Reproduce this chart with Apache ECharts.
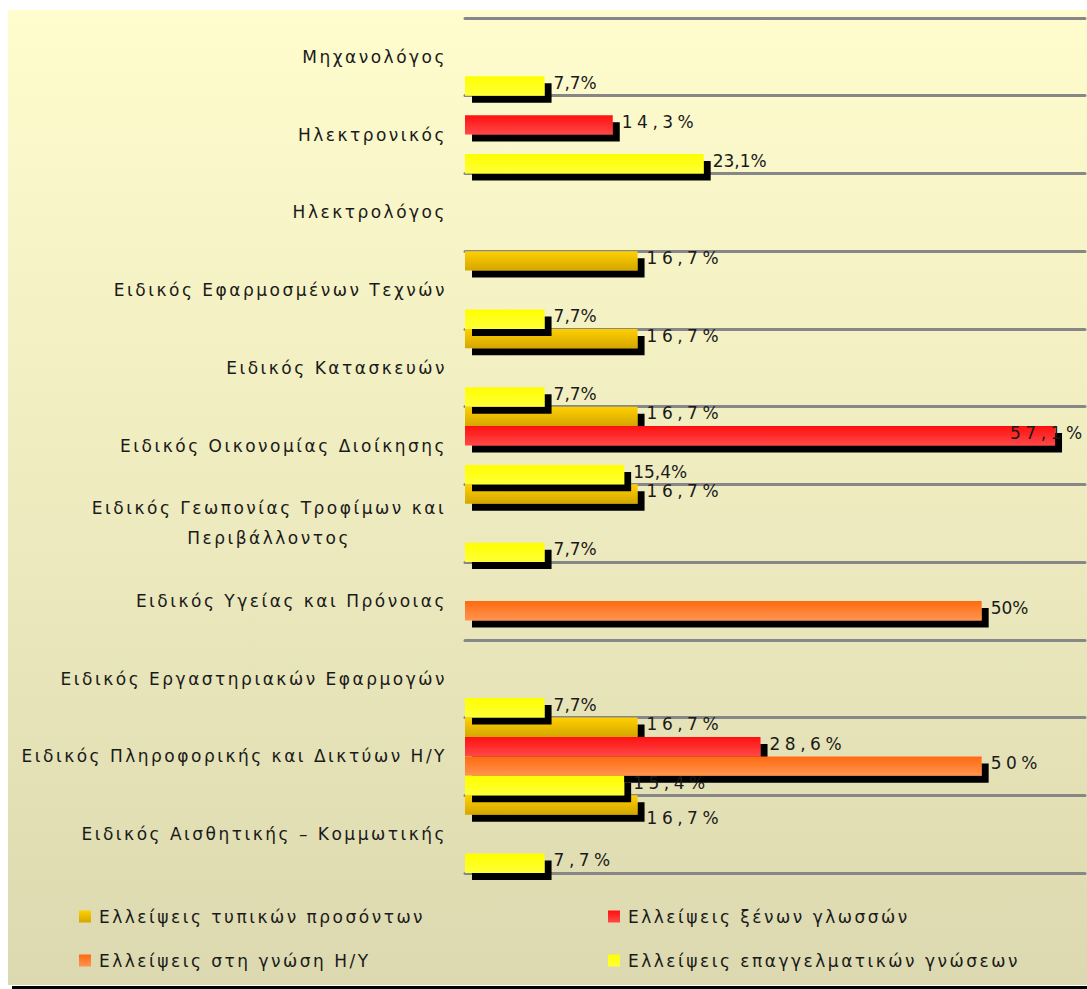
<!DOCTYPE html>
<html><head><meta charset="utf-8">
<style>
html,body{margin:0;padding:0;background:#fff;}
#c{width:1087px;height:989px;}
text[style*="SpA"]{letter-spacing:2.5px;}
text[style*="SpB"]{letter-spacing:4.5px;}
</style>
<script src="https://cdn.jsdelivr.net/npm/echarts@6/dist/echarts.min.js"></script>
</head><body><div id="c"></div>
<script>
const categories = [
  'Μηχανολόγος',
  'Ηλεκτρονικός',
  'Ηλεκτρολόγος',
  'Ειδικός Εφαρμοσμένων Τεχνών',
  'Ειδικός Κατασκευών',
  'Ειδικός Οικονομίας Διοίκησης',
  'Ειδικός Γεωπονίας Τροφίμων και\nΠεριβάλλοντος',
  'Ειδικός Υγείας και Πρόνοιας',
  'Ειδικός Εργαστηριακών Εφαρμογών',
  'Ειδικός Πληροφορικής και Δικτύων Η/Υ',
  'Ειδικός Αισθητικής – Κομμωτικής'
];
const seriesNames = [
  'Ελλείψεις τυπικών προσόντων',
  'Ελλείψεις ξένων γλωσσών',
  'Ελλείψεις στη γνώση Η/Υ',
  'Ελλείψεις επαγγελματικών γνώσεων'
];
const formalQualifications = [null, null, null, 16.7, 16.7, 16.7, 16.7, null, null, 16.7, 16.7];
const foreignLanguages     = [null, 14.3, null, null, null, 57.1, null, null, null, 28.6, null];
const computerSkills       = [null, null, null, null, null, null, null, 50, null, 50, null];
const professionalSkills   = [7.7, 23.1, null, 7.7, 7.7, 15.4, 7.7, null, 7.7, 15.4, 7.7];

const FONT = "'DejaVu Sans'";
const FONT_A = "'DejaVu Sans', SpA";
const FONT_B = "'DejaVu Sans', SpB";
const TXT = '#1a1a1a';

function grad(top, bottom) {
  return new echarts.graphic.LinearGradient(0, 0, 0, 1, [
    { offset: 0, color: top }, { offset: 1, color: bottom }
  ]);
}
const colors = [
  grad('#FFD000', '#D4A600'),
  grad('#FF1010', '#FF4848'),
  grad('#FF6A10', '#FF9450'),
  grad('#FFFF00', '#FFFF38')
];
function fmt(v) { return String(v).replace('.', ',') + '%'; }

// label styling rules
const spacedSeries = [true, true, false, false];
const spacedExtra = { 2: [9], 3: [9, 10] };
const labelOffsets = { '1-5': [-54, -3], '0-10': [0, 13] };

function mkSeries(si, values) {
  return {
    type: 'bar',
    name: seriesNames[si],
    barGap: '0%',
    barCategoryGap: '0%',
    animation: false,
    emphasis: { disabled: true },
    itemStyle: {
      color: colors[si],
      shadowColor: '#000', shadowBlur: 0, shadowOffsetX: 7, shadowOffsetY: 7
    },
    label: {
      show: true, position: 'right', distance: 9, offset: [0, -3],
      color: TXT, fontSize: 17, fontFamily: FONT,
      formatter: p => fmt(p.value)
    },
    data: values.map((v, i) => {
      if (v == null) return null;
      const spaced = spacedSeries[si] || (spacedExtra[si] || []).includes(i);
      const lab = { fontFamily: spaced ? FONT_B : FONT };
      const off = labelOffsets[si + '-' + i];
      if (off) lab.offset = off;
      return { value: v, label: lab };
    })
  };
}

const chart = echarts.init(document.getElementById('c'), null, { renderer: 'svg', width: 1087, height: 989 });
const legendPos = [[79, 908], [608, 908], [79, 952], [608, 952]];
chart.setOption({
  backgroundColor: '#ffffff',
  animation: false,
  graphic: [
    { type: 'rect', z: -100, silent: true, shape: { x: 8, y: 10, width: 1079, height: 975 },
      style: { fill: grad('#FFFDCE', '#DCD9B0') } },
    { type: 'rect', z: -100, silent: true, shape: { x: 12, y: 986, width: 1075, height: 3 },
      style: { fill: '#000' } }
  ],
  grid: { left: 465, right: 2, top: 18, bottom: 116, containLabel: false },
  legend: legendPos.map((p, i) => ({
    data: [seriesNames[i]], left: p[0], top: p[1], padding: 0,
    icon: 'rect', itemWidth: 12, itemHeight: 12, selectedMode: false,
    textStyle: { fontSize: 17, fontFamily: FONT_A, color: TXT, padding: [0, 0, 0, 3] }
  })),
  xAxis: {
    type: 'value', min: 0, max: 60,
    axisLabel: { show: false }, axisLine: { show: false }, axisTick: { show: false },
    splitLine: { show: false }
  },
  yAxis: {
    type: 'category', inverse: true, data: categories,
    axisLine: { show: false }, axisTick: { show: false },
    splitLine: { show: true, lineStyle: { color: '#878787', width: 3, cap: 'round' } },
    axisLabel: {
      margin: 18, fontSize: 17, fontFamily: FONT_A, color: TXT, align: 'right',
      formatter: v => v.includes('\n') ? v.split('\n').map(s => '{c|' + s + '}').join('\n') : v,
      rich: { c: { width: 356, align: 'center', lineHeight: 30, fontSize: 17, fontFamily: FONT_A, color: TXT } }
    }
  },
  series: [
    mkSeries(0, formalQualifications),
    mkSeries(1, foreignLanguages),
    mkSeries(2, computerSkills),
    mkSeries(3, professionalSkills)
  ]
});
</script>
</body></html>
